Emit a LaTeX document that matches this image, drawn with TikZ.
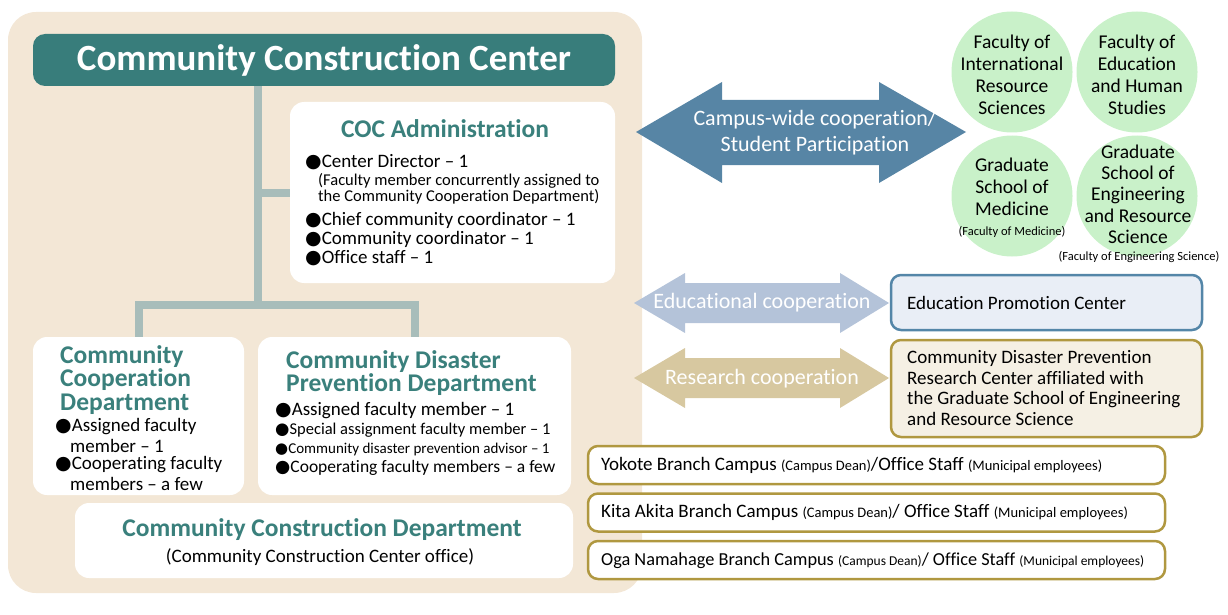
\documentclass[tikz,border=0pt]{standalone}
\usepackage{fontspec}
\setmainfont[Ligatures=NoCommon]{Carlito}
\newfontfamily\bulletfont{DejaVu Sans}
\usetikzlibrary{positioning}

\definecolor{panelbeige}{RGB}{243,231,214}
\definecolor{centerteal}{RGB}{56,125,123}
\definecolor{headteal}{RGB}{58,128,124}
\definecolor{trunkgray}{RGB}{168,189,186}
\definecolor{campusblue}{RGB}{87,133,165}
\definecolor{facgreen}{RGB}{201,241,201}
\definecolor{edublue}{RGB}{180,195,217}
\definecolor{resbeige}{RGB}{215,200,160}
\definecolor{edufill}{RGB}{233,238,246}
\definecolor{eduline}{RGB}{84,134,168}
\definecolor{resfill}{RGB}{245,240,228}
\definecolor{goldline}{RGB}{176,152,64}

\newcommand{\bul}{{\bulletfont ●}}
\newcommand{\sm}[1]{{\fontsize{14.5}{16}\selectfont #1}}

\tikzset{
    centerbox/.style={fill=centerteal, rounded corners=12pt, text=white,
        font=\fontsize{37}{40}\selectfont\bfseries},
    unitbox/.style={fill=white, rounded corners=14pt},
    unithead/.style={text=headteal, font=\fontsize{25.5}{23.5}\selectfont\bfseries,
        align=left, inner sep=0pt},
    item/.style={font=\fontsize{19}{19}\selectfont, inner sep=0pt, anchor=west},
    note/.style={font=\fontsize{16.5}{15.5}\selectfont, inner sep=0pt, anchor=west, align=left},
    trunk/.style={draw=trunkgray, line width=8pt},
    faculty/.style={circle, fill=facgreen, minimum size=121pt, inner sep=0pt},
    factext/.style={font=\fontsize{19.5}{22}\selectfont, align=center, inner sep=0pt},
    facnote/.style={font=\fontsize{12.5}{13}\selectfont, inner sep=0pt},
    arrowtext/.style={text=white, font=\fontsize{22}{26}\selectfont, align=center, inner sep=0pt},
    partnerbox/.style={rounded corners=10pt, line width=2.5pt, minimum width=311pt},
    campusbox/.style={draw=goldline, fill=white, rounded corners=10pt, line width=2.5pt,
        minimum width=577pt, minimum height=38pt},
    campustext/.style={font=\fontsize{19}{19}\selectfont, inner sep=0pt, anchor=west},
}

\begin{document}
\begin{tikzpicture}[x=1pt,y=-1pt]
    \useasboundingbox (0,0) rectangle (1228,615);

    % left panel
    \fill[panelbeige, rounded corners=28pt] (8,12) rectangle (642,593);

    % center and its units
    \node[centerbox, minimum width=582pt, minimum height=52pt] (center) at (324,60)
        {Community Construction Center};
    \node[unitbox, minimum width=325pt, minimum height=181pt] (admin) at (452.5,192.5) {};
    \node[unitbox, minimum width=211pt, minimum height=158pt] (coop) at (138.5,416) {};
    \node[unitbox, minimum width=313pt, minimum height=158pt] (disaster) at (414.5,416) {};
    \node[unitbox, minimum width=498pt, minimum height=75pt] (cons) at (324,540.5) {};

    \coordinate (fork) at (258,305);
    \draw[trunk] (center.south -| fork) -- (fork);
    \draw[trunk] (fork |- admin.west) -- (admin.west);
    \draw[trunk] (coop.north) |- (fork) -| (disaster.north);

    % COC administration
    \node[unithead] (adminhead) at (445,129) {COC Administration};
    \node[item] (adm1) at (305,162) {\bul Center Director – 1};
    \node[note] (adm1note) at (318,189)
        {(Faculty member concurrently assigned to\\the Community Cooperation Department)};
    \node[item] (adm2) at (305,220) {\bul Chief community coordinator – 1};
    \node[item] (adm3) at (305,239) {\bul Community coordinator – 1};
    \node[item] (adm4) at (305,258) {\bul Office staff – 1};

    % community cooperation department
    \node[unithead, anchor=west] (coophead) at (60,380) {Community\\Cooperation\\Department};
    \node[item] (coop1) at (55,427) {\bul Assigned faculty};
    \node[item] (coop1b) at (70,446) {member – 1};
    \node[item] (coop2) at (55,465) {\bul Cooperating faculty};
    \node[item] (coop2b) at (70,484) {members – a few};

    % community disaster prevention department
    \node[unithead, anchor=west] (disasterhead) at (286,373)
        {Community Disaster\\Prevention Department};
    \node[item] (dis1) at (275,411) {\bul Assigned faculty member – 1};
    \node[item, font=\fontsize{16.5}{17}\selectfont] (dis2) at (275,430)
        {\bul Special assignment faculty member – 1};
    \node[item, font=\fontsize{15}{15}\selectfont] (dis3) at (275,449)
        {\bul Community disaster prevention advisor – 1};
    \node[item, font=\fontsize{17.5}{17}\selectfont] (dis4) at (275,468)
        {\bul Cooperating faculty members – a few};

    % community construction department
    \node[unithead] (conshead) at (322,530) {Community Construction Department};
    \node[item, anchor=center] (consnote) at (320,557) {(Community Construction Center office)};

    % campus-wide cooperation
    \fill[campusblue] (636,132) -- (722,82) -- (722,100) -- (879,100) -- (879,82) -- (966,132)
        -- (879,183) -- (879,165) -- (722,165) -- (722,183) -- cycle;
    \node[arrowtext] (campuswide) at (815,133) {Campus-wide cooperation/\\Student Participation};

    \node[faculty] (intl) at (1012,72) {};
    \node[faculty] (edu) at (1137,72) {};
    \node[faculty] (med) at (1012,196) {};
    \node[faculty] (eng) at (1137,196) {};
    \node[factext] (intltext) at (1012,75) {Faculty of\\International\\Resource\\Sciences};
    \node[factext] (edutext) at (1137,75) {Faculty of\\Education\\and Human\\Studies};
    \node[factext] (medtext) at (1012,187) {Graduate\\School of\\Medicine};
    \node[facnote] (mednote) at (1012,232) {(Faculty of Medicine)};
    \node[factext, font=\fontsize{19.5}{21.3}\selectfont] (engtext) at (1138,194)
        {Graduate\\School of\\Engineering\\and Resource\\Science};
    \node[facnote] (engnote) at (1139,257) {(Faculty of Engineering Science)};

    % educational and research cooperation
    \fill[edublue] (634,303) -- (685,273) -- (685,283) -- (840,283) -- (840,273) -- (889,303)
        -- (840,333) -- (840,323) -- (685,323) -- (685,333) -- cycle;
    \node[arrowtext] (eduarrow) at (762,303) {Educational cooperation};
    \fill[resbeige] (634,378) -- (685,348) -- (685,358) -- (840,358) -- (840,348) -- (889,378)
        -- (840,408) -- (840,398) -- (685,398) -- (685,408) -- cycle;
    \node[arrowtext] (resarrow) at (762,379) {Research cooperation};

    \node[partnerbox, draw=eduline, fill=edufill, minimum height=55pt] (edubox) at (1046.5,302.5) {};
    \node[campustext] (edulabel) at (907,303) {Education Promotion Center};
    \node[partnerbox, draw=goldline, fill=resfill, minimum height=97pt] (resbox) at (1046.5,388.5) {};
    \node[campustext, align=left, font=\fontsize{19}{20.5}\selectfont] (reslabel) at (907,388)
        {Community Disaster Prevention\\Research Center affiliated with\\the Graduate School of Engineering\\and Resource Science};

    % branch campuses
    \node[campusbox] (yokote) at (876.5,465) {};
    \node[campusbox] (kita) at (876.5,512.5) {};
    \node[campusbox] (oga) at (876.5,560) {};
    \node[campustext] (yokotetext) at (601,465)
        {Yokote Branch Campus \sm{(Campus Dean)}/Office Staff \sm{(Municipal employees)}};
    \node[campustext] (kitatext) at (601,512)
        {Kita Akita Branch Campus \sm{(Campus Dean)}/ Office Staff \sm{(Municipal employees)}};
    \node[campustext, font=\fontsize{18.3}{19}\selectfont] (ogatext) at (601,561)
        {Oga Namahage Branch Campus {\fontsize{13.5}{15}\selectfont(Campus Dean)}/ Office Staff
        {\fontsize{13.5}{15}\selectfont(Municipal employees)}};
\end{tikzpicture}
\end{document}
